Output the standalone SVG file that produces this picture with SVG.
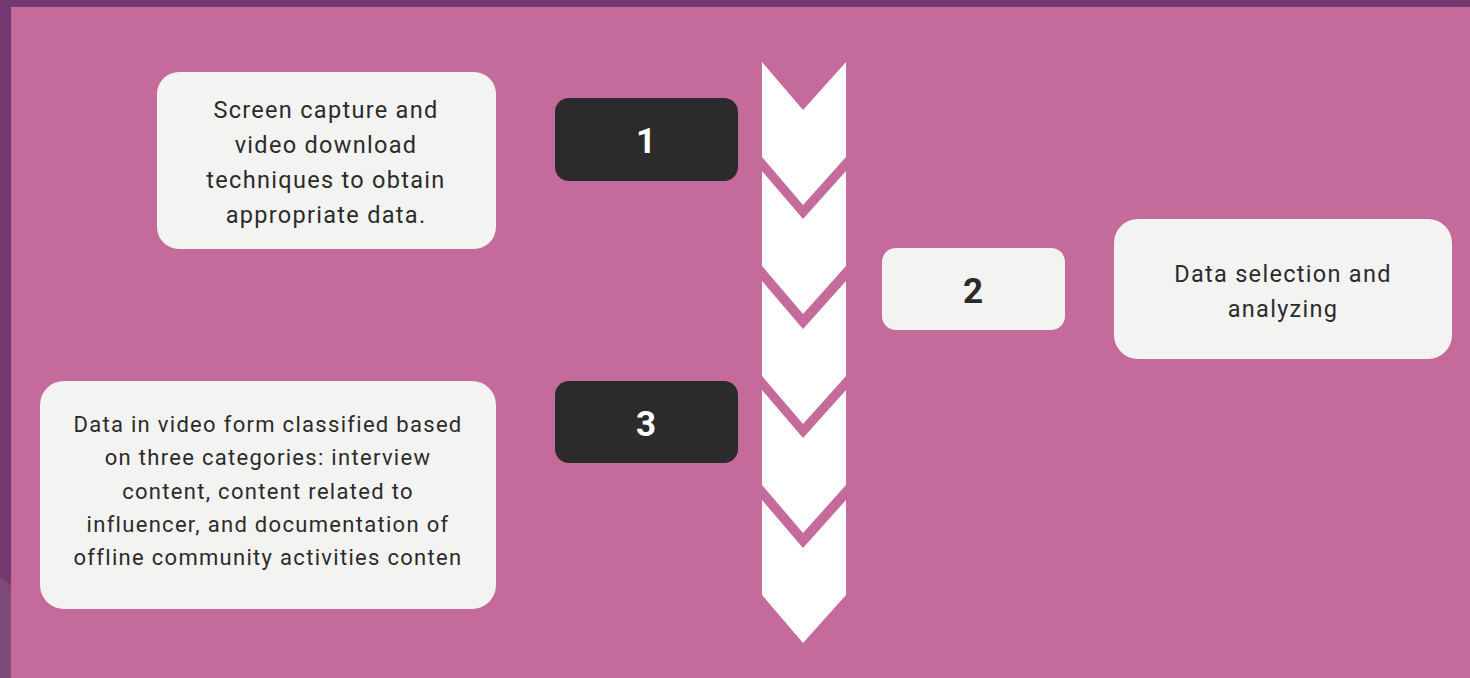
<svg xmlns="http://www.w3.org/2000/svg" width="1470" height="678" viewBox="0 0 1470 678">
<style>
.box{fill:#F3F3F1}
.dark{fill:#2B2B2B}
.chev{fill:#FFFFFF}
.t{font-family:Roboto,"Liberation Sans",sans-serif;font-size:22px;fill:#2B2B2B;text-anchor:middle;letter-spacing:1.3px}
.tl{font-size:23.5px}
.n{font-family:Roboto,"Liberation Sans",sans-serif;font-size:35px;font-weight:bold;text-anchor:middle}
</style>
<defs>
<path id="chevron" d="M0 0 L41 48 L84 0 L84 95 L41 143 L0 95 Z"/>
</defs>
<rect x="0" y="0" width="1470" height="678" fill="#C56B9C"/>
<rect x="0" y="0" width="1470" height="7" fill="#733870"/>
<rect x="0" y="0" width="11" height="678" fill="#7F4A78"/>
<path d="M0 0 H11 V586 Q6 580 0 578 Z" fill="#733870"/>
<g id="connectors">
<use href="#chevron" class="chev" x="762" y="62"/>
<use href="#chevron" class="chev" x="762" y="171"/>
<use href="#chevron" class="chev" x="762" y="281"/>
<use href="#chevron" class="chev" x="762" y="390"/>
<use href="#chevron" class="chev" x="762" y="500"/>
</g>
<g id="node-a">
<rect class="box" x="157" y="72" width="339" height="177" rx="22"/>
<text class="t tl" x="326" y="118">Screen capture and</text>
<text class="t tl" x="326" y="153">video download</text>
<text class="t tl" x="326" y="188">techniques to obtain</text>
<text class="t tl" x="326" y="223">appropriate data.</text>
</g>
<g id="node-1">
<rect class="dark" x="555" y="98" width="183" height="83" rx="14"/>
<text class="n" x="646" y="153" fill="#FFFFFF">1</text>
</g>
<g id="node-2">
<rect class="box" x="882" y="248" width="183" height="82" rx="14"/>
<text class="n" x="973" y="303" fill="#2B2B2B">2</text>
</g>
<g id="node-b">
<rect class="box" x="1114" y="219" width="338" height="140" rx="24"/>
<text class="t tl" x="1283" y="282">Data selection and</text>
<text class="t tl" x="1283" y="317">analyzing</text>
</g>
<g id="node-3">
<rect class="dark" x="555" y="381" width="183" height="82" rx="14"/>
<text class="n" x="646" y="436" fill="#FFFFFF">3</text>
</g>
<g id="node-c">
<rect class="box" x="40" y="381" width="456" height="228" rx="24"/>
<text class="t" x="268" y="432">Data in video form classified based</text>
<text class="t" x="268" y="465">on three categories: interview</text>
<text class="t" x="268" y="499">content, content related to</text>
<text class="t" x="268" y="532">influencer, and documentation of</text>
<text class="t" x="268" y="565">offline community activities conten</text>
</g>
</svg>
